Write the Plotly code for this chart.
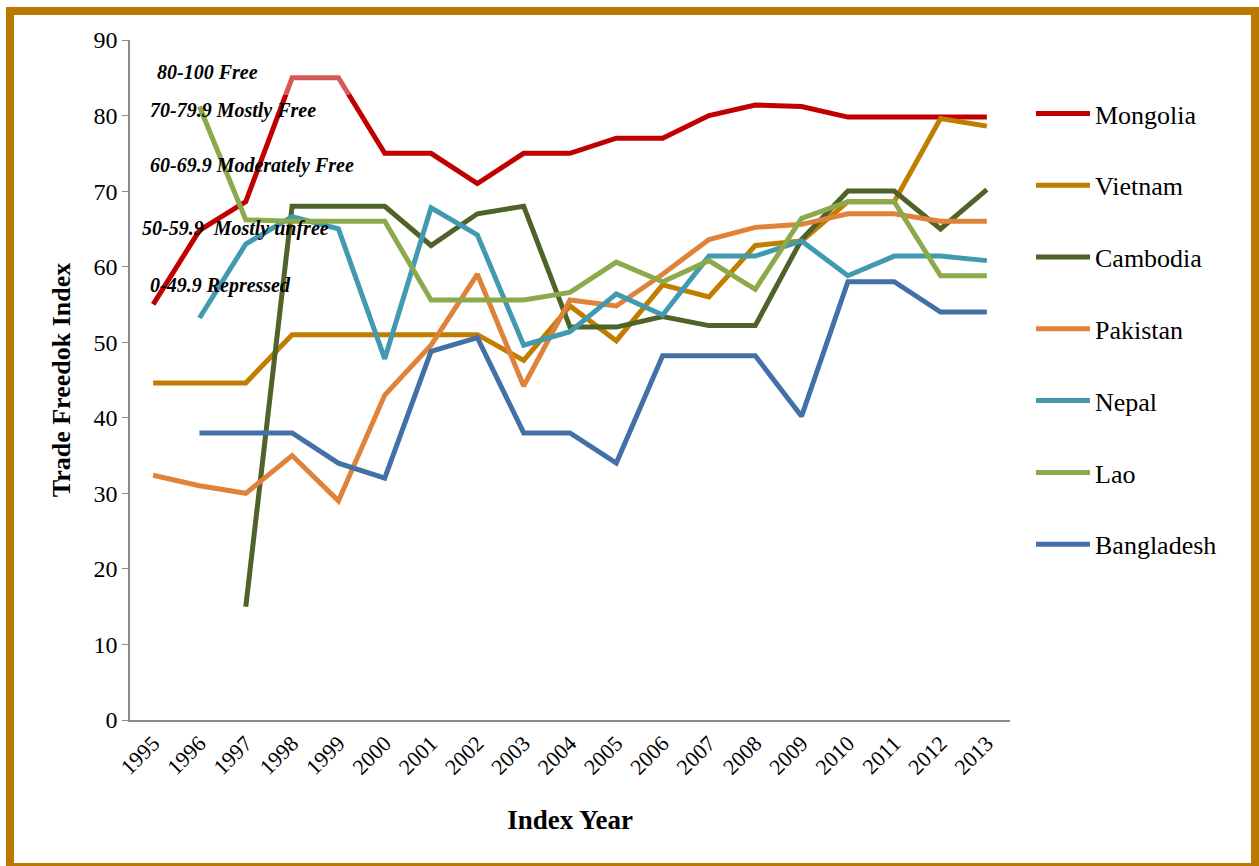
import plotly.graph_objects as go

years = [str(y) for y in range(1995, 2014)]

mongolia   = [55, 64.8, 68.6, 85, 85, 75, 75, 71, 75, 75, 77, 77, 80, 81.4, 81.2, 79.8, 79.8, 79.8, 79.8]
vietnam    = [44.6, 44.6, 44.6, 51, 51, 51, 51, 51, 47.6, 54.8, 50.2, 57.6, 56, 62.8, 63.4, 68.6, 68.6, 79.6, 78.6]
cambodia   = [None, None, 15, 68, 68, 68, 62.8, 67, 68, 52, 52, 53.4, 52.2, 52.2, 63.6, 70, 70, 65, 70.2]
pakistan   = [32.4, 31, 30, 35, 29, 43, 49.6, 59, 44.2, 55.6, 54.8, 59, 63.6, 65.2, 65.6, 67, 67, 66, 66]
nepal      = [None, 53.2, 63, 66.6, 65, 47.8, 67.8, 64.2, 49.6, 51.4, 56.4, 53.6, 61.4, 61.4, 63.4, 58.8, 61.4, 61.4, 60.8]
lao        = [None, 81.2, 66.2, 66, 66, 66, 55.6, 55.6, 55.6, 56.6, 60.6, 58, 60.8, 57, 66.4, 68.6, 68.6, 58.8, 58.8]
bangladesh = [None, 38, 38, 38, 34, 32, 48.8, 50.6, 38, 38, 34, 48.2, 48.2, 48.2, 40.2, 58, 58, 54, 54]

series = [
    ("Mongolia", mongolia, "#C00000"),
    ("Vietnam", vietnam, "#BF7E00"),
    ("Cambodia", cambodia, "#4F6228"),
    ("Pakistan", pakistan, "#DF823A"),
    ("Nepal", nepal, "#419AB0"),
    ("Lao", lao, "#8CAA4C"),
    ("Bangladesh", bangladesh, "#4470A8"),
]

bands = [
    ("80-100 Free", 155, 72),
    ("70-79.9 Mostly Free", 148, 111),
    ("60-69.9 Moderately Free", 148, 165),
    ("50-59.9  Mostly unfree", 140, 228),
    ("0-49.9 Repressed", 148, 285),
]

FONT = "Liberation Serif, Times New Roman, serif"
L, R, T, B = 130, 1010, 40, 720
W, H = 1259, 866

def px_x(p):
    return (p - L) / (R - L)

def px_y(p):
    return (B - p) / (B - T)

fig = go.Figure()
for i, (name, vals, col) in enumerate(series):
    fig.add_trace(go.Scatter(
        x=years, y=vals, name=name, mode="lines",
        line=dict(color=col, width=5),
        legendgroup=f"g{i}", connectgaps=False,
    ))

annotations = []
for text, lx, ly in bands:
    annotations.append(dict(
        text=f"<b><i>{text}</i></b>", x=px_x(lx), y=px_y(ly),
        xref="paper", yref="paper", xanchor="left", yanchor="middle",
        showarrow=False, font=dict(family=FONT, size=20, color="black"),
    ))

shapes = [
    dict(type="rect", xref="paper", yref="paper",
         x0=px_x(132), x1=px_x(350), y0=px_y(95), y1=px_y(60),
         fillcolor="rgba(255,255,255,0.35)", line=dict(width=0), layer="above"),
    dict(type="rect", xref="paper", yref="paper",
         x0=px_x(10), x1=px_x(1255), y0=px_y(867), y1=px_y(11),
         line=dict(color="#B97800", width=8), fillcolor="rgba(0,0,0,0)", layer="below"),
]

fig.update_layout(
    width=W, height=H,
    margin=dict(l=L, r=W - R, t=T, b=H - B),
    paper_bgcolor="white", plot_bgcolor="white",
    font=dict(family=FONT, size=24, color="black"),
    showlegend=True,
    legend=dict(x=px_x(1031), y=px_y(90), xanchor="left", yanchor="top",
                font=dict(family=FONT, size=26, color="black"),
                tracegroupgap=35, itemwidth=54, bgcolor="rgba(0,0,0,0)"),
    annotations=annotations,
    shapes=shapes,
)

fig.update_xaxes(
    type="category", range=[-0.5, 18.5],
    showline=True, linecolor="#8C8C8C", linewidth=1.5,
    showgrid=False, ticks="", tickangle=-45,
    tickfont=dict(family=FONT, size=22),
    title=dict(text="<b>Index Year</b>", font=dict(family=FONT, size=27), standoff=32),
)
fig.update_yaxes(
    range=[0, 90], dtick=10, tick0=0,
    showline=True, linecolor="#8C8C8C", linewidth=1.5,
    showgrid=False, zeroline=False, ticks="outside", ticklen=6, tickcolor="#8C8C8C",
    tickfont=dict(family=FONT, size=24),
    title=dict(text="<b>Trade Freedok Index</b>", font=dict(family=FONT, size=26), standoff=15),
)

fig.write_html("out.html", config={"displayModeBar": False},
               post_script="document.body.style.margin='0';document.body.style.overflow='hidden';")
